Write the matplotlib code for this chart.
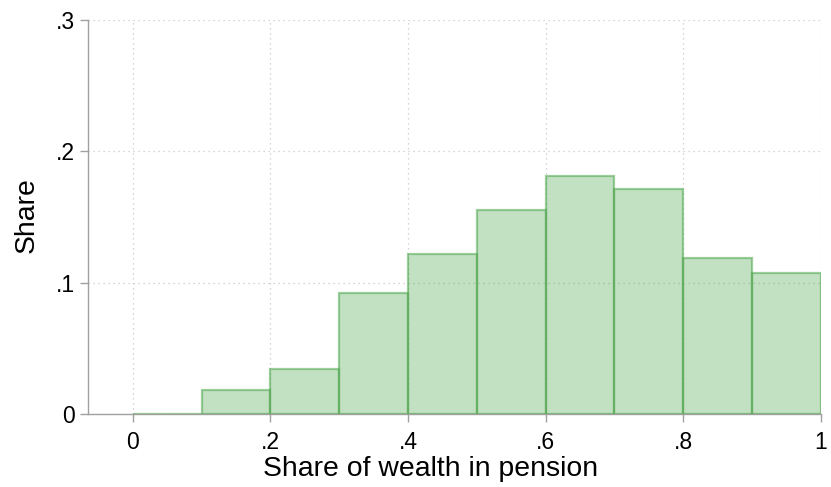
import matplotlib.pyplot as plt
import numpy as np

plt.rcParams['font.family'] = ['Liberation Sans', 'DejaVu Sans']

# histogram of pension share, bins of width .1
bin_left = [0.0, 0.1, 0.2, 0.3, 0.4, 0.5, 0.6, 0.7, 0.8, 0.9]
share = [0.0, 0.0185, 0.034, 0.092, 0.122, 0.155, 0.181, 0.1715, 0.119, 0.1075]
bin_width = 0.1

xticks = [0, 0.2, 0.4, 0.6, 0.8, 1.0]
xticklabels = ['0', '.2', '.4', '.6', '.8', '1']
yticks = [0, 0.1, 0.2, 0.3]
yticklabels = ['0', '.1', '.2', '.3']

fig = plt.figure(figsize=(8.31, 4.87), dpi=100)
ax = fig.add_axes([0.1059, 0.150, 0.8820, 0.809])

ax.bar(bin_left, share, width=bin_width, align='edge',
       facecolor=(0.30, 0.65, 0.30, 0.34), edgecolor=(0.30, 0.65, 0.30, 0.55),
       linewidth=1.6, zorder=3)

ax.set_xlim(-0.065, 1.0)
ax.set_ylim(0, 0.3)
ax.set_xticks(xticks)
ax.set_xticklabels(xticklabels)
ax.set_yticks(yticks)
ax.set_yticklabels(yticklabels)

ax.grid(True, color='#c8c8c8', linestyle=(0, (1, 3)), linewidth=0.9, zorder=0)

for s in ['top', 'right']:
    ax.spines[s].set_visible(False)
for s in ['left', 'bottom']:
    ax.spines[s].set_color('#a0a0a0')
    ax.spines[s].set_linewidth(1.0)

ax.tick_params(axis='both', colors='#a0a0a0', labelcolor='black',
               labelsize=16.5, length=5.5, width=1.0)
ax.tick_params(axis='y', pad=4)
ax.tick_params(axis='x', pad=7)

ax.set_xlabel('Share of wealth in pension', fontsize=20.4)
ax.set_ylabel('Share', fontsize=20.4)
ax.xaxis.set_label_coords(0.467, -0.106)
ax.yaxis.set_label_coords(-0.066, 0.505)

fig.savefig('out.png', dpi=100)
